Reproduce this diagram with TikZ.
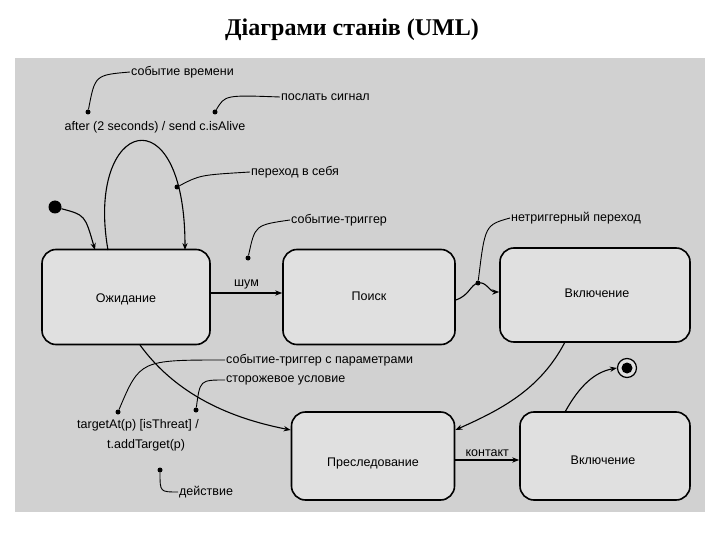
\documentclass[tikz,border=0pt]{standalone}
\usepackage{fontspec}
\setmainfont{Liberation Sans}
\newfontfamily\titlefont{Liberation Serif}
\usetikzlibrary{arrows.meta}
\begin{document}
\begin{tikzpicture}[x=1pt,y=-1pt,
  st/.style={draw,line width=1.6pt,rounded corners=14pt,fill=black!12},
  tr/.style={line width=1.1pt,-{Stealth[length=7pt]}},
  note/.style={line width=0.9pt},
  lbl/.style={font=\fontsize{12.5}{14}\selectfont,inner sep=1pt},
  pin/.style={circle,fill,inner sep=0pt,minimum size=5pt}]
\useasboundingbox (0,0) rectangle (720,540);
\fill[black!18] (15,58) rectangle (705,512);
\node[font=\titlefont\bfseries\fontsize{24}{28}\selectfont] (title) at (352,30) {Діаграми станів (UML)};
% states
\node[st,minimum width=168pt,minimum height=95pt] (wait) at (126,297) {};
\node[lbl] at (126,299) {Ожидание};
\node[st,minimum width=172pt,minimum height=95pt] (search) at (369,297) {};
\node[lbl] at (369,296) {Поиск};
\node[st,minimum width=190pt,minimum height=94pt] (on1) at (595,295) {};
\node[lbl] at (597,293) {Включение};
\node[st,minimum width=163pt,minimum height=88pt] (chase) at (373,456) {};
\node[lbl] at (373,463) {Преследование};
\node[st,minimum width=170pt,minimum height=88pt] (on2) at (605,456) {};
\node[lbl] at (603,460) {Включение};
% initial & final
\node[circle,fill,minimum size=13pt,inner sep=0pt] (init) at (55,207) {};
\node[circle,draw,line width=1.2pt,minimum size=19pt,inner sep=0pt,fill=black!12] (fin) at (627,368) {};
\node[circle,fill,minimum size=11pt,inner sep=0pt] (finin) at (fin) {};
% transitions
\coordinate (w1) at (95,250); \coordinate (w2) at (108,250); \coordinate (w3) at (185,250);
\draw[tr] (init) .. controls (85,215) .. (w1);
\draw[tr] (w2) .. controls (85,120) and (185,90) .. (w3);
\draw[tr] (wait.east|-0,293) -- (search.west|-0,293) node[lbl,midway,above=2pt] {шум};
\draw[tr] (search.east|-0,300) .. controls (470,295) and (470,285) .. (478,283) .. controls (486,281) and (490,292) .. (on1.west|-0,292);
\draw[tr] (565,342) .. controls (540,390) and (500,410) .. (chase.east|-0,430);
\draw[tr] (140,345) .. controls (180,400) and (240,420) .. (chase.west|-0,430);
\draw[tr] (chase.east|-0,460) -- (on2.west|-0,460) node[lbl,midway,above=2pt] {контакт};
\draw[tr] (565,412) .. controls (580,385) and (595,372) .. (fin.west);
% annotations
\node[lbl,anchor=west] (t1) at (130,72) {событие времени};
\node[lbl,anchor=west] (t2) at (280,97) {послать сигнал};
\node[lbl] (t3) at (155,127) {after (2 seconds) / send c.isAlive};
\node[pin] (p1) at (88,112) {}; \node[pin] (p2) at (215,112) {};
\draw[note] (t1.west) .. controls (95,75) .. (p1);
\draw[note] (t2.west) .. controls (225,95) .. (p2);
\node[lbl,anchor=west] (t4) at (250,172) {переход в себя};
\node[pin] (p4) at (177,187) {};
\draw[note] (t4.west) .. controls (200,175) .. (p4);
\node[lbl,anchor=west] (t5) at (290,220) {событие-триггер};
\node[pin] (p5) at (248,258) {};
\draw[note] (t5.west) .. controls (255,225) .. (p5);
\node[lbl,anchor=west] (t6) at (510,218) {нетриггерный переход};
\node[pin] (p6) at (478,283) {};
\draw[note] (t6.west) .. controls (485,225) .. (p6);
\node[lbl,anchor=west] (t7) at (225,360) {событие-триггер с параметрами};
\node[lbl,anchor=west] (t8) at (225,380) {сторожевое условие};
\node[pin] (p7) at (118,412) {}; \node[pin] (p8) at (196,410) {};
\draw[note] (t7.west) .. controls (140,360) .. (p7);
\draw[note] (t8.west) .. controls (200,380) .. (p8);
\node[lbl,anchor=west] (t9) at (76,425) {targetAt(p) [isThreat] /};
\node[lbl,anchor=west] (t10) at (106,445) {t.addTarget(p)};
\node[lbl,anchor=west] (t11) at (178,492) {действие};
\node[pin] (p11) at (160,470) {};
\draw[note] (t11.west) .. controls (160,492) .. (p11);
\end{tikzpicture}
\end{document}
